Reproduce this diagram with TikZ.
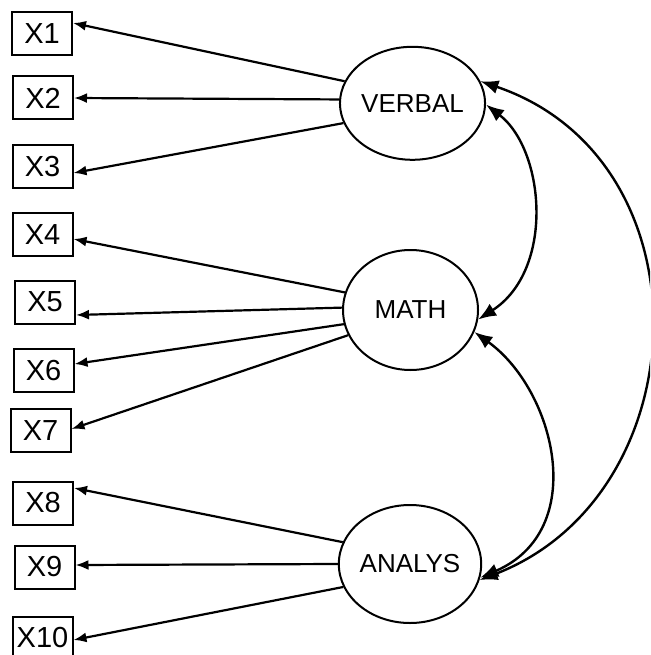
\documentclass[tikz,border=0pt]{standalone}
\usepackage{fontspec}
\setmainfont{Liberation Sans}
\usetikzlibrary{arrows.meta,calc,shapes.geometric}

\begin{document}
\begin{tikzpicture}[x=1pt,y=-1pt,
  obs/.style={draw,line width=2pt,rectangle,minimum width=60pt,minimum height=43pt,
    inner sep=0pt,font=\fontsize{29}{29}\selectfont},
  lat/.style={draw,line width=2pt,ellipse,minimum width=135pt,inner sep=0pt,
    font=\fontsize{26}{26}\selectfont},
  load/.style={line width=2.2pt,-{Latex[length=13pt,width=10pt]}},
  cov/.style={line width=2.4pt,{Latex[length=18pt,width=14pt]}-{Latex[length=18pt,width=14pt]}}]

\useasboundingbox (0,0) rectangle (650,655);
\clip (0,0) rectangle (650,655);

% observed indicators
\node[obs] (X1)  at (42,33.5)  {X1};
\node[obs] (X2)  at (43,98)    {X2};
\node[obs] (X3)  at (42.5,166.5) {X3};
\node[obs] (X4)  at (42.5,234.5) {X4};
\node[obs] (X5)  at (45,302)   {X5};
\node[obs] (X6)  at (43.5,370.5) {X6};
\node[obs] (X7)  at (40.5,430.5) {X7};
\node[obs] (X8)  at (43,503)   {X8};
\node[obs] (X9)  at (44.5,567) {X9};
\node[obs] (X10) at (42.5,638) {X10};

% latent factors
\node[lat,minimum height=113pt] (V) at (412.5,103.3) {VERBAL};
\node[lat,minimum height=120pt] (M) at (410.5,310)   {MATH};
\node[lat,minimum height=118pt] (A) at (410,564)     {ANALYS};

% loadings
\draw[load] (V.162) -- ($(X1.east)+(0,-10.5)$);
\draw[load] (V.177) -- (X2.east);
\draw[load] (V.196) -- ($(X3.east)+(0,6.5)$);

\draw[load] (M.165) -- ($(X4.east)+(0,4.5)$);
\draw[load] (M.178) -- ($(X5.east)+(0,13)$);
\draw[load] (M.192) -- ($(X6.east)+(0,-6.5)$);
\draw[load] (M.202) -- ($(X7.east)+(0,-1.5)$);

\draw[load] (A.162) -- ($(X8.east)+(0,-15)$);
\draw[load] (A.180) -- ($(X9.east)+(0,-2)$);
\draw[load] (A.199) -- ($(X10.east)+(0,2)$);

% factor covariances
\draw[cov] (V.-1.5) .. controls (545,150) and (555,270) .. (M.-8.5);
\draw[cov] (M.-19) .. controls (555,390) and (590,530) .. (A.-11);
\draw[cov] (V.18) .. controls (712,160) and (700,495) .. (A.-13);

\end{tikzpicture}
\end{document}
